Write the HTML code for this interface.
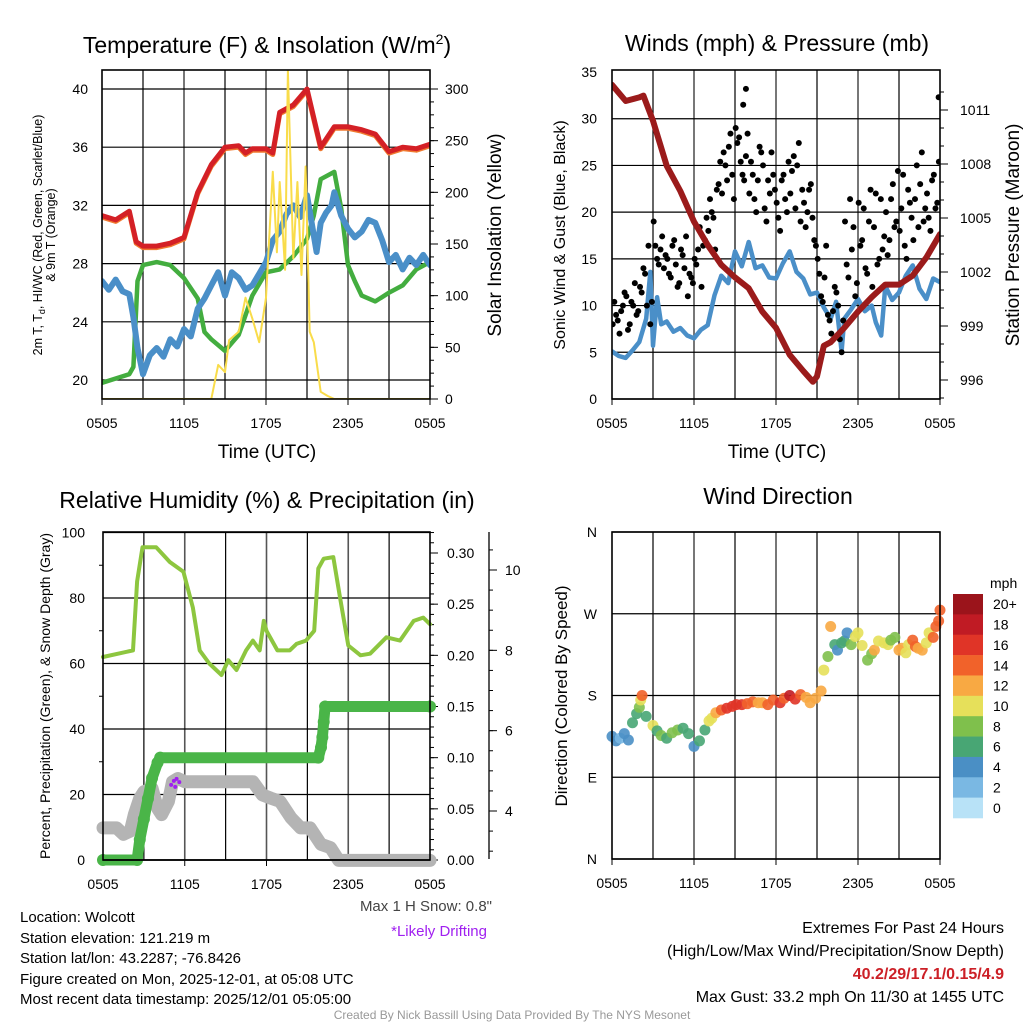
<!DOCTYPE html>
<html><head><meta charset="utf-8"><style>
html,body{margin:0;padding:0;background:#fff}
svg{display:block;font-family:"Liberation Sans",sans-serif}
</style></head><body>
<svg id="c" width="1024" height="1024" viewBox="0 0 1024 1024">
<g><text x="267" y="53" font-size="23" text-anchor="middle">Temperature (F) &amp; Insolation (W/m<tspan font-size="14" dy="-9">2</tspan><tspan dy="9">)</tspan></text></g>
<text x="777" y="51" font-size="23" text-anchor="middle">Winds (mph) &amp; Pressure (mb)</text>
<text x="267" y="508" font-size="23" text-anchor="middle">Relative Humidity (%) &amp; Precipitation (in)</text>
<text x="778" y="504" font-size="23" text-anchor="middle">Wind Direction</text>

<text x="267" y="458" font-size="19" text-anchor="middle">Time (UTC)</text>
<text x="777" y="458" font-size="19" text-anchor="middle">Time (UTC)</text>

<text transform="translate(42,235) rotate(-90)" font-size="12.5" text-anchor="middle">2m T, T<tspan font-size="9" dy="3">d</tspan><tspan dy="-3">, HI/WC (Red, Green, Scarlet/Blue)</tspan></text>
<text transform="translate(55,235) rotate(-90)" font-size="12.5" text-anchor="middle">&amp; 9m T (Orange)</text>
<text transform="translate(501,235) rotate(-90)" font-size="19" text-anchor="middle">Solar Insolation (Yellow)</text>
<text transform="translate(565,235) rotate(-90)" font-size="16" text-anchor="middle">Sonic Wind &amp; Gust (Blue, Black)</text>
<text transform="translate(1019,235) rotate(-90)" font-size="19" text-anchor="middle">Station Pressure (Maroon)</text>
<text transform="translate(50,696) rotate(-90)" font-size="14" text-anchor="middle">Percent, Precipitation (Green), &amp; Snow Depth (Gray)</text>
<text transform="translate(567,696) rotate(-90)" font-size="17" text-anchor="middle">Direction (Colored By Speed)</text>

<g font-size="15">
<text x="20" y="922">Location: Wolcott</text>
<text x="20" y="943">Station elevation: 121.219 m</text>
<text x="20" y="963">Station lat/lon: 43.2287; -76.8426</text>
<text x="20" y="984">Figure created on Mon, 2025-12-01, at 05:08 UTC</text>
<text x="20" y="1004">Most recent data timestamp: 2025/12/01 05:05:00</text>
</g>
<text x="492" y="911" font-size="15" fill="#444" text-anchor="end">Max 1 H Snow: 0.8"</text>
<text x="487" y="936" font-size="15" fill="#a020f0" text-anchor="end">*Likely Drifting</text>
<g font-size="16" text-anchor="end">
<text x="1004" y="933">Extremes For Past 24 Hours</text>
<text x="1004" y="956">(High/Low/Max Wind/Precipitation/Snow Depth)</text>
<text x="1004" y="979" fill="#cc2027" font-weight="bold">40.2/29/17.1/0.15/4.9</text>
<text x="1004" y="1002">Max Gust: 33.2 mph On 11/30 at 1455 UTC</text>
</g>
<text x="512" y="1019" font-size="12" fill="#999" text-anchor="middle">Created By Nick Bassill Using Data Provided By The NYS Mesonet</text>
</svg>
<script>
// ---------- Data ----------
const xTickLabels = ["0505","1105","1705","2305","0505"];
// Temperature panel
const tempTimes = [0,1,2,2.5,3,4,5,6,7,8,9,10,10.5,11,12,12.5,13,14,15,16,17,18,19,20,21,22,23,24];
const tempRed   = [31.3,31.0,31.6,29.5,29.2,29.2,29.4,29.8,32.9,34.8,36.0,36.1,35.6,35.9,35.9,35.6,38.4,38.9,40.0,36.0,37.4,37.4,37.2,36.9,35.7,36.0,35.9,36.2];
const greenTimes = [0,1,2,2.3,2.6,3,4,5,6,7,7.5,8,9,10,11,12,13,14,15,15.5,16,17,17.5,18,18.5,19,20,21,22,23,24];
const tempGreen  = [19.8,20.1,20.4,20.9,26.8,27.9,28.1,27.9,27.0,25.6,23.3,22.8,22.0,23.1,25.8,27.4,27.6,28.5,29.7,31.3,33.8,34.3,31.8,27.9,26.8,25.8,25.4,26.0,26.5,27.6,28.1];
const blueTimes = [0,0.5,1,1.5,2,2.3,2.6,3,3.5,4,4.5,5,5.5,6,6.5,7,7.5,8,8.5,9,9.5,10,10.5,11,11.5,12,12.5,13,13.5,14,14.5,15,15.7,16,16.4,16.8,17,17.5,18,18.5,19,19.5,20,20.5,21,21.5,22,22.5,23,23.5,24];
const tempBlue  = [26.8,26.2,26.9,26.1,25.9,24.3,22.2,20.4,21.7,22.2,21.6,22.8,22.3,23.5,23.0,24.9,25.6,26.5,27.4,25.8,27.4,27.0,26.2,26.5,27.3,28.1,29.6,30.2,31.4,32.0,31.2,32.7,28.8,30.8,31.5,32.0,32.9,31.3,30.4,29.8,30.2,31.0,30.8,29.6,28.1,28.6,27.6,28.4,27.9,28.6,27.9];
const solarTimes = [0,8,8.5,9,9.3,10,10.5,11,11.5,12,12.5,12.8,13,13.4,13.6,14,14.3,14.6,14.9,15.2,15.5,16,16.5,17,24];
const solar      = [0,0,33,26,57,65,98,78,55,98,220,142,210,125,318,136,210,120,225,65,55,7,3,0,0];
const tempTicks = [20,24,28,32,36,40];
const solarTicks = [0,50,100,150,200,250,300];
// Wind panel
const windTimes = [0,0.5,1,1.5,2,2.5,2.8,3,3.3,3.6,4,4.5,5,5.5,6,6.5,7,7.5,8,8.5,9,9.5,10,10.5,11,11.5,12,12.5,13,13.5,14,14.5,15,15.5,16,16.4,16.8,17,17.5,18,18.5,19,19.3,19.7,20,20.5,21,21.5,22,22.5,23,23.5,24];
const windSpeed = [5.1,4.6,4.4,5.2,6.1,8.6,13.6,5.7,10.9,8.0,8.3,7.2,7.6,6.8,6.5,7.4,7.9,11.1,13.2,12.4,15.8,14.2,16.8,14.0,14.3,13.0,12.9,14.5,15.8,13.6,12.9,11.2,11.4,9.8,8.6,10.4,5.1,8.6,9.6,10.7,9.4,10.0,8.2,6.8,12.1,10.6,11.4,13.2,14.3,11.8,10.7,12.9,12.5];
const pressTimes = [0,1,2,2.3,3,4,5,6,7,8,9,10,11,12,13,14,14.7,15,15.5,16,17,18,19,20,21,22,23,24];
const pressure   = [1012.4,1011.5,1011.7,1011.8,1010.4,1007.9,1006.5,1004.8,1003.5,1002.4,1001.7,1001.1,999.8,998.9,997.4,996.5,995.9,996.2,997.9,998.1,998.9,999.8,1000.6,1001.3,1001.3,1001.8,1002.8,1004.1];
const gustA = [8,9,7,10,11,8,10,9,12,14,10,8,19,15,16,14,15,13,17,12,16,14,11,13,15,16,12,17,18,20,16,23,22,25,27,24,29,28,24,26,22,24,20,27,25,19,22,24,21,18,24,20,22,26,25,19,21,20,23,17,15,11,13,9,7,12,10,5,19,13,16,11,21,17,14,19,12,22,15,16,20,17,23,19,18,24,15,21,17,25,23,19,22,18,24,21];
const gustB = [10,8,9,11,7,10,12,9,11,13,16,10,16,14,17,15,13,16,14,12,15,17,13,12,14,18,16,19,21,19,22,25,26,23,28,21,27,25,23,28,25,21,23,26,20,23,26,22,19,23,21,25,24,20,27,22,18,22,19,16,13,10,16,8,9,11,6,8,14,21,18,12,16,20,13,22,18,14,21,17,15,21,18,24,20,16,22,19,21,18,26,20,19,23,20,25];
const gustExtraTimes = [9.8,9.6,23.9];
const gustExtra = [33.2,31.5,32.3];
const windTicks = [0,5,10,15,20,25,30];
const pressTicks = [996,999,1002,1005,1008,1011];
// Humidity panel
const rhTimes = [0,2.2,2.5,2.9,3.9,4.9,5.9,6.6,7.1,7.8,8.7,9.2,9.8,10.5,11,11.5,11.8,12,12.8,13.7,14.2,14.9,15.5,15.8,16.2,16.9,17.4,18,18.9,19.6,20.8,21.8,22.8,23.5,24];
const rh       = [62,64,85,95.5,95.5,91,88,77,64,60,56.5,61,58,64,67,64,73,70,64,64,66,67,70,89,92,92.5,80,65.5,62.5,63,68,67,73,74,72];
const precipTimes = [0,2.5,2.7,3,3.3,3.6,4,4.2,15.8,16,16.1,16.2,16.3,24];
const precip      = [0,0,0.02,0.04,0.06,0.08,0.095,0.10,0.10,0.11,0.12,0.135,0.15,0.15];
const snowTimes = [0,1,1.5,2,2.3,2.7,3,3.6,4,4.3,4.8,5.1,5.5,6,11,11.7,12.3,13,13.8,14.5,15.2,16,16.7,17.3,24];
const snowDepth = [3.58,3.58,3.42,3.50,3.91,4.32,4.48,4.56,4.07,3.91,4.24,4.73,4.81,4.73,4.73,4.40,4.32,4.24,3.83,3.58,3.58,3.17,3.09,2.77,2.77];
const driftTimes = [5.0,5.2,5.4,5.3,5.6];
const driftSnow = [4.65,4.75,4.8,4.6,4.72];
const rhTicks = [0,20,40,60,80,100];
const precipTicks = [0,0.05,0.10,0.15,0.20,0.25,0.30];
const snowTicks = [4,6,8,10];
// Wind direction panel
const dirTimes = [0,0.3,0.6,0.9,1.2,1.5,1.8,2.0,2.1,2.2,2.5,3,3.3,3.6,4,4.4,4.8,5.2,5.6,6,6.4,6.8,7.1,7.3,7.6,8,8.4,8.8,9.1,9.5,9.9,10.3,10.7,11,11.4,11.8,12.3,12.6,13,13.4,13.8,14.2,14.5,14.9,15.3,15.5,15.8,16,16.3,16.5,16.8,17,17.2,17.5,17.8,18,18.3,18.7,19,19.2,19.5,19.9,20.2,20.4,20.7,21,21.2,21.5,21.7,22,22.2,22.4,22.7,23,23.2,23.5,23.7,23.9,24];
const dirDeg  = [135,130,133,138,131,150,160,167,175,180,157,147,141,136,133,139,142,144,138,124,130,142,152,155,161,164,166,168,170,170,171,173,172,172,170,175,172,177,180,176,181,178,172,177,185,208,223,256,236,230,238,240,249,236,245,249,235,219,226,230,240,238,236,241,244,230,232,227,236,241,234,232,230,238,249,244,256,262,274];
const dirSpeed= [4,4,3,4,5,6,6,8,10,14,6,10,7,8,7,8,8,7,6,5,6,6,10,11,12,14,16,16,17,16,15,14,13,13,14,14,17,15,18,17,14,13,12,12,12,10,8,12,6,5,6,6,4,8,11,10,10,8,8,12,10,10,11,8,8,12,12,10,10,14,15,12,12,10,10,14,14,14,15];
const speedBins = ["0","2","4","6","8","10","12","14","16","18","20+"];
const speedColors = ["#b8e2f7","#7ab8e3","#4a8fc5","#48a674","#7fc04c","#e6e05a","#f8a943","#f1622a","#e03427","#c01b24","#9b141b"];
const dirTicks = ["N","E","S","W","N"];

// ---------- Helpers ----------
const NS = "http://www.w3.org/2000/svg";
const svg = document.getElementById("c");
function mk(tag, attrs, parent) {
  const e = document.createElementNS(NS, tag);
  for (const k in attrs) e.setAttribute(k, attrs[k]);
  (parent || svg).appendChild(e);
  return e;
}
function lin(d0, d1, r0, r1) { return v => r0 + (v - d0) * (r1 - r0) / (d1 - d0); }
function pathFrom(xs, ys, fx, fy) {
  return xs.map((t, i) => (i ? "L" : "M") + fx(t).toFixed(1) + "," + fy(ys[i]).toFixed(1)).join("");
}
function frame(x0, x1, y0, y1, name) {
  const g = mk("g", {});
  
  
  for (let i = 1; i < 8; i++) {
    const x = x0 + (x1 - x0) * i / 8;
    const l = mk("line", {x1: x, x2: x, y1: y0, y2: y1, stroke: i % 2 ? "#000" : "#555", "stroke-width": i % 2 ? 1.2 : 1.6}, g);
    
    
  }
  for (let i = 0; i < xTickLabels.length; i++) {
    const x = x0 + (x1 - x0) * i / 4;
    const t = mk("text", {x: x, y: y1 + 29, "font-size": 14, "text-anchor": "middle"}, g);
    t.textContent = xTickLabels[i];
    
    
    mk("line", {x1: x, x2: x, y1: y1, y2: y1 + 6, stroke: "#000"}, g);
  }
  return g;
}
function border(x0, x1, y0, y1, name) {
  const r = mk("rect", {x: x0, y: y0, width: x1 - x0, height: y1 - y0, fill: "none", stroke: "#000", "stroke-width": 1.6});
  
  
}
function hgrid(g, ticks, fy, x0, x1, labelX, fmt, anchor) {
  ticks.forEach(v => {
    const y = fy(v);
    const l = mk("line", {x1: x0, x2: x1, y1: y, y2: y, stroke: "#000", "stroke-width": 1.2}, g);
    
    
    const t = mk("text", {x: labelX, y: y + 5, "font-size": 14, "text-anchor": anchor || "end"}, g);
    t.textContent = fmt ? fmt(v) : v;
    
    
  });
}
function rightAxis(g, ticks, fy, x, labelX, fmt, minorStep, lo, hi) {
  for (let v = lo; v <= hi + 1e-9; v += minorStep) {
    const y = fy(v);
    mk("line", {x1: x, x2: x + 4, y1: y, y2: y, stroke: "#000"}, g);
  }
  ticks.forEach(v => {
    const y = fy(v);
    mk("line", {x1: x, x2: x + 8, y1: y, y2: y, stroke: "#000"}, g);
    const t = mk("text", {x: labelX, y: y + 5, "font-size": 14}, g);
    t.textContent = fmt ? fmt(v) : v;
    
    
  });
}

// ---------- Panel 1: Temperature ----------
(function () {
  const X0 = 102, X1 = 430, Y0 = 70, Y1 = 399;
  const fx = lin(0, 24, X0, X1);
  const fy = lin(20, 40, 380, 89);
  const fs = lin(0, 300, 399, 89);
  const g = frame(X0, X1, Y0, Y1, "temperature-grid");
  hgrid(g, tempTicks, fy, X0, X1, 88);
  const ra = mk("g", {});
  
  
  rightAxis(ra, solarTicks, fs, X1, 445, null, 12.5, 0, 312);
  const clip = mk("clipPath", {id: "cp1"});
  mk("rect", {x: X0, y: Y0, width: X1 - X0, height: Y1 - Y0}, clip);
  const s = mk("g", {"clip-path": "url(#cp1)", fill: "none", "stroke-linejoin": "round", "stroke-linecap": "round"});
  let p;
  p = mk("path", {d: pathFrom(greenTimes, tempGreen, fx, fy), stroke: "#43ad3f", "stroke-width": 4.5}, s);
   
  p = mk("path", {d: pathFrom(blueTimes, tempBlue, fx, fy), stroke: "#4a8fc8", "stroke-width": 6}, s);
   
  p = mk("path", {d: pathFrom(tempTimes, tempRed, fx, v => fy(v) + 1.5), stroke: "#f07a30", "stroke-width": 5}, s);
   
  p = mk("path", {d: pathFrom(tempTimes, tempRed, fx, fy), stroke: "#d42026", "stroke-width": 5}, s);
   
  p = mk("path", {d: pathFrom(solarTimes, solar, fx, fs), stroke: "#f9dc4a", "stroke-width": 2}, s);
   
  border(X0, X1, Y0, Y1, "temperature-plot-area");
})();

// ---------- Panel 2: Winds ----------
(function () {
  const X0 = 612, X1 = 940, Y0 = 70, Y1 = 399;
  const fx = lin(0, 24, X0, X1);
  const fy = lin(0, 35, 399, 72);
  const fp = lin(996, 1011, 380, 110);
  const g = frame(X0, X1, Y0, Y1, "wind-grid");
  hgrid(g, windTicks, fy, X0, X1, 597);
  const t35 = mk("text", {x: 597, y: fy(35) + 5, "font-size": 14, "text-anchor": "end"}, g);
  t35.textContent = "35";
   
  const ra = mk("g", {});
  
  
  rightAxis(ra, pressTicks, fp, X1, 960, null, 1, 995, 1012);
  const clip = mk("clipPath", {id: "cp2"});
  mk("rect", {x: X0, y: Y0, width: X1 - X0, height: Y1 - Y0}, clip);
  const s = mk("g", {"clip-path": "url(#cp2)", fill: "none", "stroke-linejoin": "round", "stroke-linecap": "round"});
  let p = mk("path", {d: pathFrom(windTimes, windSpeed, fx, fy), stroke: "#4a8fc8", "stroke-width": 4.5}, s);
   
  const dots = mk("g", {fill: "#000"}, s);
   
  gustA.forEach((v, i) => {
    const c = mk("circle", {cx: fx(i * 0.25 + 0.05), cy: fy(v), r: 3}, dots);
     
  });
  gustB.forEach((v, i) => {
    const c = mk("circle", {cx: fx(i * 0.25 + 0.17), cy: fy(v + 0.4), r: 3}, dots);
     
  });
  gustExtra.forEach((v, i) => {
    const c = mk("circle", {cx: fx(gustExtraTimes[i]), cy: fy(v), r: 3}, dots);
     
  });
  p = mk("path", {d: pathFrom(pressTimes, pressure, fx, fp), stroke: "#9b1b1b", "stroke-width": 6}, s);
   
  border(X0, X1, Y0, Y1, "wind-plot-area");
})();

// ---------- Panel 3: Humidity ----------
(function () {
  const X0 = 103, X1 = 430, Y0 = 532, Y1 = 860;
  const fx = lin(0, 24, X0, X1);
  const fy = lin(0, 100, 860, 532.5);
  const fpr = lin(0, 0.30, 860, 553);
  const fsn = lin(4, 10, 811, 570);
  const g = frame(X0, X1, Y0, Y1, "humidity-grid");
  hgrid(g, rhTicks, fy, X0, X1, 85);
  for (let v = 10; v < 100; v += 20) mk("line", {x1: X0, x2: X0 - 4, y1: fy(v), y2: fy(v), stroke: "#000"}, g);
  const ra = mk("g", {});
  
  
  rightAxis(ra, precipTicks, fpr, X1, 447, v => v.toFixed(2), 0.01, 0, 0.32);
  const sa = mk("g", {});
  
  
  mk("line", {x1: 489, x2: 489, y1: 532, y2: 859, stroke: "#000", "stroke-width": 1.3}, sa);
  for (let v = 3; v <= 11; v += 0.5) { const y = fsn(v); if (y >= 532 && y <= 859) mk("line", {x1: 489, x2: 493, y1: y, y2: y, stroke: "#000"}, sa); }
  snowTicks.forEach(v => {
    mk("line", {x1: 489, x2: 497, y1: fsn(v), y2: fsn(v), stroke: "#000"}, sa);
    const t = mk("text", {x: 505, y: fsn(v) + 5, "font-size": 14}, sa);
    t.textContent = v;
     
  });
  const s = mk("g", {fill: "none", "stroke-linejoin": "round", "stroke-linecap": "round"});
  let p = mk("path", {d: pathFrom(snowTimes, snowDepth, fx, fsn), stroke: "#b4b4b4", "stroke-width": 13}, s);
   
  p = mk("path", {d: pathFrom(rhTimes, rh, fx, fy), stroke: "#8dc63f", "stroke-width": 4}, s);
   
  p = mk("path", {d: pathFrom(precipTimes, precip, fx, fpr), stroke: "#4ab548", "stroke-width": 11}, s);
   
  const pd = mk("g", {fill: "#4ab548"});
   
  precipTimes.forEach((t, i) => {
    const c = mk("circle", {cx: fx(t), cy: fpr(precip[i]), r: 6}, pd);
     
  });
  const dd = mk("g", {fill: "#a020f0"});
   
  driftTimes.forEach((t, i) => {
    const c = mk("circle", {cx: fx(t), cy: fsn(driftSnow[i]), r: 2}, dd);
     
  });
  mk("line", {x1: X0, x2: X1, y1: Y1, y2: Y1, stroke: "#000", "stroke-width": 1.6});
  border(X0, X1, Y0, Y1, "humidity-plot-area");
})();

// ---------- Panel 4: Wind direction ----------
(function () {
  const X0 = 612, X1 = 940, Y0 = 532, Y1 = 859;
  const fx = lin(0, 24, X0, X1);
  const fy = lin(0, 360, 859, 532);
  const g = frame(X0, X1, Y0, Y1, "direction-grid");
  dirTicks.forEach((lab, i) => {
    const y = fy(i * 90);
    mk("line", {x1: X0, x2: X1, y1: y, y2: y, stroke: "#000", "stroke-width": 1.2}, g);
    const t = mk("text", {x: 597, y: y + 5, "font-size": 14, "text-anchor": "end"}, g);
    t.textContent = lab;
     
  });
  const pts = mk("g", {"fill-opacity": 0.9});
   
  dirTimes.forEach((t, i) => {
    const bin = Math.min(10, Math.floor(dirSpeed[i] / 2));
    const c = mk("circle", {cx: fx(t), cy: fy(dirDeg[i]), r: 5.5, fill: speedColors[bin]}, pts);
     
  });
  border(X0, X1, Y0, Y1, "direction-plot-area");
  const lg = mk("g", {});
   
  const mt = mk("text", {x: 990, y: 588, "font-size": 14}, lg);
  mt.textContent = "mph";
  const h = 224 / 11;
  for (let i = 0; i < 11; i++) {
    const k = 10 - i;
    const y = 594 + i * h;
    const r = mk("rect", {x: 953, y: y, width: 30, height: h + 0.3, fill: speedColors[k]}, lg);
     
    const t = mk("text", {x: 993, y: y + h / 2 + 5, "font-size": 14}, lg);
    t.textContent = speedBins[k];
     
  }
})();
</script>
</body></html>
